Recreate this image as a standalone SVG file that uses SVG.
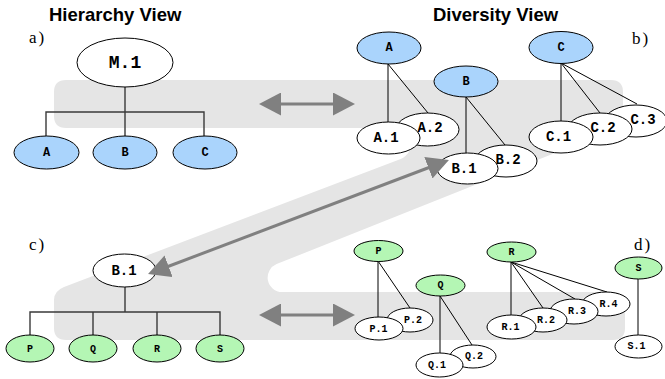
<svg xmlns="http://www.w3.org/2000/svg" width="665" height="379" viewBox="0 0 665 379">
  <style>
    .title { font-family: "Liberation Sans", Arial, sans-serif; font-weight: bold; font-size: 18.5px; fill: #000; }
    .tag { font-family: "Liberation Serif", "Times New Roman", serif; font-size: 17px; fill: #000; letter-spacing: 2px; }
    .nd { stroke: #000; stroke-width: 1; }
    .white { fill: #fff; }
    .blue { fill: #aad4fc; }
    .green { fill: #b4f6b4; }
    .lbl { font-family: "Liberation Mono", "Courier New", monospace; font-weight: bold; fill: #000; text-anchor: middle; dominant-baseline: central; }
    .big { font-size: 18px; }
    .mid { font-size: 14px; }
    .sm { font-size: 12px; }
    .xs { font-size: 10px; }
    .tree { stroke: #3a3a3a; stroke-width: 1.4; fill: none; }
    .edge { stroke: #000; stroke-width: 1; fill: none; }
    .arrow { stroke: #808080; stroke-width: 3; fill: none; marker-start: url(#ah); marker-end: url(#ah); }
  </style>
  <defs>
    <marker id="ah" viewBox="0 0 22 23" refX="12" refY="11.5" markerWidth="22" markerHeight="23" markerUnits="userSpaceOnUse" orient="auto-start-reverse">
      <path d="M0,0 L22,11.5 L0,23 Z" fill="#808080"/>
    </marker>
  </defs>

  <!-- shaded Z-shaped band linking the four views -->
  <path id="band" fill="#e5e5e5" d="M66,80 H611 Q623,80 623,92 V118 Q623,126 615,129 L276.6,264.1 A14.5,14.5 0 0 0 282,292 H613 Q625,292 625,304 V328 Q625,340 613,340 H66 Q54,340 54,328 V300 Q54,291 64,287 L400.7,158.9 A16,16 0 0 0 395,128 H66 Q54,128 54,116 V92 Q54,80 66,80 Z"/>

  <!-- headings and panel tags -->
  <text class="title" x="49" y="21">Hierarchy View</text>
  <text class="title" x="433" y="21">Diversity View</text>
  <text class="tag" x="29" y="43">a)</text>
  <text class="tag" x="632" y="44">b)</text>
  <text class="tag" x="29" y="250">c)</text>
  <text class="tag" x="634" y="250">d)</text>

  <!-- connectors -->
  <g id="connectors">
    <!-- a) M.1 tree -->
    <path class="tree" d="M125,87 V112 M46,136 V112 H204 V136 M125,112 V136"/>
    <!-- c) B.1 tree -->
    <path class="tree" d="M125,287 V312 M30,335 V312 H220 V335 M93,312 V335 M157,312 V335"/>
    <!-- b) diversity edges -->
    <path class="edge" d="M388,64 V122 M388,64 L428,113"/>
    <path class="edge" d="M466,97 V153 M466,97 L505,145"/>
    <path class="edge" d="M561,63 V121 M561,63 L600,113 M561,63 L637,104"/>
    <!-- d) diversity edges -->
    <path class="edge" d="M378,261 V317 M378,261 L410,308"/>
    <path class="edge" d="M440,296 V353 M440,296 L472,345"/>
    <path class="edge" d="M511,262 V315 M511,262 L543,308 M511,262 L575,299 M511,262 L607,292"/>
    <path class="edge" d="M638,279 V335"/>
  </g>

  <!-- a) hierarchy view -->
  <g id="a-M1"><ellipse class="nd white" cx="125" cy="62.5" rx="48" ry="24.5"/><text class="lbl big" x="125" y="63">M.1</text></g>
  <g id="a-A"><ellipse class="nd blue" cx="46.5" cy="152.5" rx="32.5" ry="16.5"/><text class="lbl sm" x="46.5" y="153">A</text></g>
  <g id="a-B"><ellipse class="nd blue" cx="125" cy="152.5" rx="32" ry="16.5"/><text class="lbl sm" x="125" y="153">B</text></g>
  <g id="a-C"><ellipse class="nd blue" cx="205" cy="152.5" rx="32" ry="16.5"/><text class="lbl sm" x="205" y="153">C</text></g>

  <!-- b) diversity view -->
  <g id="b-A"><ellipse class="nd blue" cx="389" cy="48" rx="32" ry="16"/><text class="lbl sm" x="389" y="48">A</text></g>
  <g id="b-A2"><ellipse class="nd white" cx="427.5" cy="129.5" rx="31.5" ry="16.5"/><text class="lbl mid" x="430" y="128">A.2</text></g>
  <g id="b-A1"><ellipse class="nd white" cx="388.5" cy="138" rx="31.5" ry="16"/><text class="lbl mid" x="386" y="138">A.1</text></g>
  <g id="b-B"><ellipse class="nd blue" cx="466" cy="81.5" rx="32" ry="15.5"/><text class="lbl sm" x="466" y="81.5">B</text></g>
  <g id="b-B2"><ellipse class="nd white" cx="506" cy="161" rx="31" ry="16"/><text class="lbl mid" x="508" y="160">B.2</text></g>
  <g id="b-B1"><ellipse class="nd white" cx="467.5" cy="168.5" rx="30.5" ry="15.5"/><text class="lbl mid" x="464" y="169">B.1</text></g>
  <g id="b-C"><ellipse class="nd blue" cx="561" cy="47.5" rx="32" ry="16"/><text class="lbl sm" x="561" y="47.5">C</text></g>
  <g id="b-C3"><ellipse class="nd white" cx="636" cy="121" rx="31" ry="16"/><text class="lbl mid" x="643" y="120">C.3</text></g>
  <g id="b-C2"><ellipse class="nd white" cx="600" cy="129" rx="32" ry="16"/><text class="lbl mid" x="603" y="128">C.2</text></g>
  <g id="b-C1"><ellipse class="nd white" cx="561" cy="137" rx="32" ry="16"/><text class="lbl mid" x="558.5" y="137">C.1</text></g>

  <!-- c) hierarchy view of B.1 -->
  <g id="c-B1"><ellipse class="nd white" cx="124.5" cy="270.5" rx="31.5" ry="16.5"/><text class="lbl mid" x="124" y="271">B.1</text></g>
  <g id="c-P"><ellipse class="nd green" cx="30" cy="348.5" rx="24" ry="13.5"/><text class="lbl xs" x="30" y="349">P</text></g>
  <g id="c-Q"><ellipse class="nd green" cx="93" cy="348.5" rx="24" ry="13.5"/><text class="lbl xs" x="93" y="349">Q</text></g>
  <g id="c-R"><ellipse class="nd green" cx="157" cy="348.5" rx="24" ry="13.5"/><text class="lbl xs" x="157" y="349">R</text></g>
  <g id="c-S"><ellipse class="nd green" cx="220" cy="348.5" rx="24" ry="13.5"/><text class="lbl xs" x="220" y="349">S</text></g>

  <!-- d) diversity view of B.1 -->
  <g id="d-P"><ellipse class="nd green" cx="378.5" cy="251" rx="24.5" ry="10.5"/><text class="lbl xs" x="378.5" y="251">P</text></g>
  <g id="d-P2"><ellipse class="nd white" cx="410" cy="320" rx="23" ry="12"/><text class="lbl xs" x="413" y="320">P.2</text></g>
  <g id="d-P1"><ellipse class="nd white" cx="379" cy="328.5" rx="24" ry="11.5"/><text class="lbl xs" x="378.5" y="329">P.1</text></g>
  <g id="d-Q"><ellipse class="nd green" cx="440.5" cy="285.5" rx="24.5" ry="10.5"/><text class="lbl xs" x="440.5" y="285.5">Q</text></g>
  <g id="d-Q2"><ellipse class="nd white" cx="473" cy="356.5" rx="23" ry="11.5"/><text class="lbl xs" x="474" y="356">Q.2</text></g>
  <g id="d-Q1"><ellipse class="nd white" cx="439.5" cy="365" rx="23.5" ry="12"/><text class="lbl xs" x="437" y="365">Q.1</text></g>
  <g id="d-R"><ellipse class="nd green" cx="511.5" cy="252" rx="24.5" ry="10"/><text class="lbl xs" x="511.5" y="252">R</text></g>
  <g id="d-R4"><ellipse class="nd white" cx="606" cy="304" rx="24" ry="12"/><text class="lbl xs" x="608.5" y="304">R.4</text></g>
  <g id="d-R3"><ellipse class="nd white" cx="574" cy="311.5" rx="24" ry="12.5"/><text class="lbl xs" x="577" y="311.5">R.3</text></g>
  <g id="d-R2"><ellipse class="nd white" cx="543" cy="320" rx="24" ry="12"/><text class="lbl xs" x="546" y="320">R.2</text></g>
  <g id="d-R1"><ellipse class="nd white" cx="511.5" cy="327" rx="24.5" ry="12"/><text class="lbl xs" x="510.5" y="327.5">R.1</text></g>
  <g id="d-S"><ellipse class="nd green" cx="638.5" cy="268" rx="23.5" ry="11"/><text class="lbl xs" x="638.5" y="268">S</text></g>
  <g id="d-S1"><ellipse class="nd white" cx="638.5" cy="346.5" rx="23.5" ry="11.5"/><text class="lbl xs" x="636.5" y="346.5">S.1</text></g>

  <!-- double-headed arrows between views -->
  <g id="view-arrows">
    <line class="arrow" x1="269" y1="104" x2="345" y2="104"/>
    <line class="arrow" x1="269" y1="315" x2="345" y2="315"/>
    <line class="arrow" x1="157.4" y1="270.5" x2="439.6" y2="163.5"/>
  </g>
</svg>
